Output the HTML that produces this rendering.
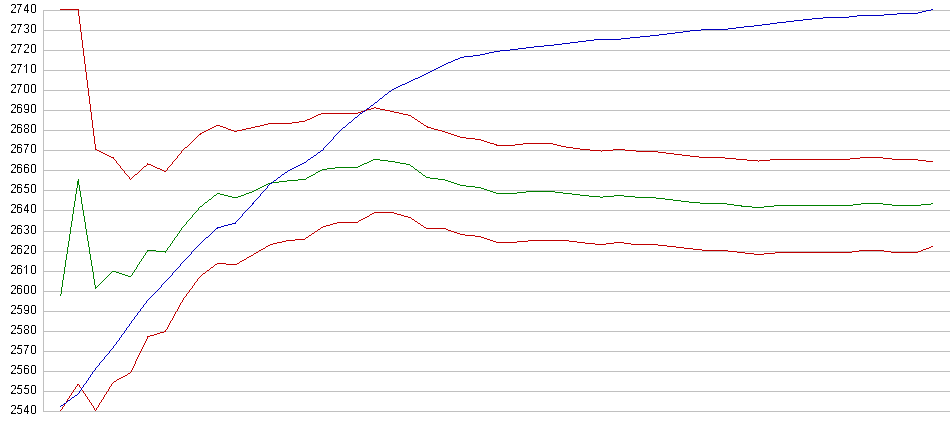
<!DOCTYPE html>
<html><head><meta charset="utf-8"><style>
html,body{margin:0;padding:0;background:#fff;width:950px;height:435px;overflow:hidden}
svg{position:absolute;left:0;top:0}
.l{position:absolute;right:913px;font-family:"Liberation Sans",sans-serif;font-size:12px;line-height:14px;color:#000;white-space:nowrap;will-change:transform}
</style></head><body>
<svg width="950" height="435" viewBox="0 0 950 435" shape-rendering="crispEdges"><path fill="#c0c0c0" d="M43 10h907v1h-907zM43 30h907v1h-907zM43 50h907v1h-907zM43 70h907v1h-907zM43 90h907v1h-907zM43 110h907v1h-907zM43 130h907v1h-907zM43 150h907v1h-907zM43 170h907v1h-907zM43 190h907v1h-907zM43 210h907v1h-907zM43 231h907v1h-907zM43 251h907v1h-907zM43 271h907v1h-907zM43 291h907v1h-907zM43 311h907v1h-907zM43 331h907v1h-907zM43 351h907v1h-907zM43 371h907v1h-907zM43 391h907v1h-907zM43 411h907v1h-907zM43 10h1v402h-1z"/><path fill="#c00000" d="M374 212h20v1h-20zM372 213h2v1h-2zM394 213h3v1h-3zM370 214h2v1h-2zM397 214h4v1h-4zM369 215h1v1h-1zM401 215h3v1h-3zM367 216h2v1h-2zM404 216h4v1h-4zM365 217h2v1h-2zM408 217h3v1h-3zM363 218h2v1h-2zM411 218h1v1h-1zM361 219h2v1h-2zM412 219h2v1h-2zM359 220h2v1h-2zM414 220h1v1h-1zM358 221h1v1h-1zM415 221h2v1h-2zM337 222h21v1h-21zM417 222h1v1h-1zM333 223h4v1h-4zM418 223h2v1h-2zM330 224h3v1h-3zM420 224h1v1h-1zM326 225h4v1h-4zM421 225h2v1h-2zM323 226h3v1h-3zM423 226h1v1h-1zM321 227h2v1h-2zM424 227h2v1h-2zM320 228h1v1h-1zM426 228h20v1h-20zM318 229h2v1h-2zM446 229h2v1h-2zM317 230h1v1h-1zM448 230h3v1h-3zM315 231h2v1h-2zM451 231h3v1h-3zM314 232h1v1h-1zM454 232h3v1h-3zM312 233h2v1h-2zM457 233h3v1h-3zM311 234h1v1h-1zM460 234h5v1h-5zM309 235h2v1h-2zM465 235h10v1h-10zM308 236h1v1h-1zM475 236h6v1h-6zM306 237h2v1h-2zM481 237h3v1h-3zM305 238h1v1h-1zM484 238h3v1h-3zM295 239h10v1h-10zM487 239h3v1h-3zM286 240h9v1h-9zM490 240h3v1h-3zM528 240h41v1h-41zM282 241h4v1h-4zM493 241h3v1h-3zM517 241h11v1h-11zM569 241h8v1h-8zM277 242h5v1h-5zM496 242h21v1h-21zM577 242h8v1h-8zM614 242h10v1h-10zM273 243h4v1h-4zM585 243h10v1h-10zM606 243h8v1h-8zM624 243h7v1h-7zM270 244h3v1h-3zM595 244h11v1h-11zM631 244h27v1h-27zM268 245h2v1h-2zM658 245h9v1h-9zM266 246h2v1h-2zM667 246h9v1h-9zM931 246h2v1h-2zM265 247h1v1h-1zM676 247h8v1h-8zM929 247h2v1h-2zM263 248h2v1h-2zM684 248h9v1h-9zM926 248h3v1h-3zM261 249h2v1h-2zM693 249h9v1h-9zM923 249h3v1h-3zM259 250h2v1h-2zM702 250h26v1h-26zM859 250h25v1h-25zM921 250h2v1h-2zM258 251h1v1h-1zM728 251h9v1h-9zM852 251h7v1h-7zM884 251h7v1h-7zM918 251h3v1h-3zM256 252h2v1h-2zM737 252h8v1h-8zM775 252h77v1h-77zM891 252h27v1h-27zM254 253h2v1h-2zM745 253h9v1h-9zM764 253h11v1h-11zM253 254h1v1h-1zM754 254h10v1h-10zM251 255h2v1h-2zM249 256h2v1h-2zM247 257h2v1h-2zM246 258h1v1h-1zM244 259h2v1h-2zM242 260h2v1h-2zM240 261h2v1h-2zM239 262h1v1h-1zM217 263h9v1h-9zM237 263h2v1h-2zM215 264h2v1h-2zM226 264h11v1h-11zM214 265h1v1h-1zM213 266h1v1h-1zM211 267h2v1h-2zM210 268h1v1h-1zM209 269h1v1h-1zM207 270h2v1h-2zM206 271h1v1h-1zM205 272h1v1h-1zM203 273h2v1h-2zM202 274h1v1h-1zM201 275h1v1h-1zM200 276h1v1h-1zM199 277h1v1h-1zM198 278h1v1h-1zM197 279h1v1h-1zM197 280h1v1h-1zM196 281h1v1h-1zM195 282h1v1h-1zM194 283h1v1h-1zM194 284h1v1h-1zM193 285h1v1h-1zM192 286h1v1h-1zM192 287h1v1h-1zM191 288h1v1h-1zM190 289h1v1h-1zM189 290h1v1h-1zM189 291h1v1h-1zM188 292h1v1h-1zM187 293h1v1h-1zM186 294h1v1h-1zM186 295h1v1h-1zM185 296h1v1h-1zM184 297h1v1h-1zM183 298h1v1h-1zM183 299h1v1h-1zM182 300h1v1h-1zM182 301h1v1h-1zM181 302h1v1h-1zM180 303h1v1h-1zM180 304h1v1h-1zM179 305h1v1h-1zM179 306h1v1h-1zM178 307h1v1h-1zM178 308h1v1h-1zM177 309h1v1h-1zM177 310h1v1h-1zM176 311h1v1h-1zM175 312h1v1h-1zM175 313h1v1h-1zM174 314h1v1h-1zM174 315h1v1h-1zM173 316h1v1h-1zM173 317h1v1h-1zM172 318h1v1h-1zM172 319h1v1h-1zM171 320h1v1h-1zM170 321h1v1h-1zM170 322h1v1h-1zM169 323h1v1h-1zM169 324h1v1h-1zM168 325h1v1h-1zM168 326h1v1h-1zM167 327h1v1h-1zM167 328h1v1h-1zM166 329h1v1h-1zM165 330h1v1h-1zM164 331h2v1h-2zM160 332h4v1h-4zM157 333h3v1h-3zM154 334h3v1h-3zM150 335h4v1h-4zM147 336h3v1h-3zM147 337h1v1h-1zM147 338h1v1h-1zM146 339h1v1h-1zM146 340h1v1h-1zM145 341h1v1h-1zM145 342h1v1h-1zM144 343h1v1h-1zM144 344h1v1h-1zM143 345h1v1h-1zM143 346h1v1h-1zM142 347h1v1h-1zM142 348h1v1h-1zM141 349h1v1h-1zM141 350h1v1h-1zM140 351h1v1h-1zM140 352h1v1h-1zM139 353h1v1h-1zM139 354h1v1h-1zM138 355h1v1h-1zM138 356h1v1h-1zM137 357h1v1h-1zM137 358h1v1h-1zM136 359h1v1h-1zM136 360h1v1h-1zM135 361h1v1h-1zM135 362h1v1h-1zM135 363h1v1h-1zM134 364h1v1h-1zM134 365h1v1h-1zM133 366h1v1h-1zM133 367h1v1h-1zM132 368h1v1h-1zM132 369h1v1h-1zM131 370h1v1h-1zM131 371h1v1h-1zM130 372h1v1h-1zM128 373h2v1h-2zM127 374h1v1h-1zM125 375h2v1h-2zM123 376h2v1h-2zM121 377h2v1h-2zM119 378h2v1h-2zM117 379h2v1h-2zM116 380h1v1h-1zM114 381h2v1h-2zM113 382h1v1h-1zM112 383h1v1h-1zM77 384h2v1h-2zM111 384h1v1h-1zM77 385h1v1h-1zM79 385h1v1h-1zM111 385h1v1h-1zM76 386h1v1h-1zM79 386h1v1h-1zM110 386h1v1h-1zM75 387h1v1h-1zM80 387h1v1h-1zM109 387h1v1h-1zM75 388h1v1h-1zM81 388h1v1h-1zM109 388h1v1h-1zM74 389h1v1h-1zM81 389h1v1h-1zM108 389h1v1h-1zM73 390h1v1h-1zM82 390h1v1h-1zM108 390h1v1h-1zM73 391h1v1h-1zM83 391h1v1h-1zM107 391h1v1h-1zM72 392h1v1h-1zM83 392h1v1h-1zM106 392h1v1h-1zM71 393h1v1h-1zM84 393h1v1h-1zM106 393h1v1h-1zM71 394h1v1h-1zM85 394h1v1h-1zM105 394h1v1h-1zM70 395h1v1h-1zM85 395h1v1h-1zM104 395h1v1h-1zM69 396h1v1h-1zM86 396h1v1h-1zM104 396h1v1h-1zM69 397h1v1h-1zM87 397h1v1h-1zM103 397h1v1h-1zM68 398h1v1h-1zM87 398h1v1h-1zM103 398h1v1h-1zM67 399h1v1h-1zM88 399h1v1h-1zM102 399h1v1h-1zM67 400h1v1h-1zM89 400h1v1h-1zM101 400h1v1h-1zM66 401h1v1h-1zM89 401h1v1h-1zM101 401h1v1h-1zM66 402h1v1h-1zM90 402h1v1h-1zM100 402h1v1h-1zM65 403h1v1h-1zM91 403h1v1h-1zM99 403h1v1h-1zM64 404h1v1h-1zM91 404h1v1h-1zM99 404h1v1h-1zM64 405h1v1h-1zM92 405h1v1h-1zM98 405h1v1h-1zM63 406h1v1h-1zM93 406h1v1h-1zM98 406h1v1h-1zM62 407h1v1h-1zM93 407h1v1h-1zM97 407h1v1h-1zM62 408h1v1h-1zM94 408h1v1h-1zM96 408h1v1h-1zM61 409h1v1h-1zM94 409h1v1h-1zM96 409h1v1h-1zM60 410h1v1h-1zM95 410h1v1h-1z"/><path fill="#008000" d="M373 159h7v1h-7zM371 160h2v1h-2zM380 160h8v1h-8zM369 161h2v1h-2zM388 161h7v1h-7zM367 162h2v1h-2zM395 162h5v1h-5zM364 163h3v1h-3zM400 163h6v1h-6zM362 164h2v1h-2zM406 164h4v1h-4zM360 165h2v1h-2zM410 165h1v1h-1zM358 166h2v1h-2zM411 166h2v1h-2zM335 167h23v1h-23zM413 167h1v1h-1zM327 168h8v1h-8zM414 168h1v1h-1zM322 169h5v1h-5zM415 169h2v1h-2zM320 170h2v1h-2zM417 170h1v1h-1zM318 171h2v1h-2zM418 171h1v1h-1zM316 172h2v1h-2zM419 172h2v1h-2zM315 173h1v1h-1zM421 173h1v1h-1zM313 174h2v1h-2zM422 174h1v1h-1zM311 175h2v1h-2zM423 175h2v1h-2zM309 176h2v1h-2zM425 176h1v1h-1zM307 177h2v1h-2zM426 177h4v1h-4zM306 178h1v1h-1zM430 178h8v1h-8zM78 179h1v1h-1zM298 179h8v1h-8zM438 179h7v1h-7zM78 180h1v1h-1zM287 180h11v1h-11zM445 180h3v1h-3zM77 181h2v1h-2zM279 181h8v1h-8zM448 181h3v1h-3zM77 182h2v1h-2zM271 182h8v1h-8zM451 182h3v1h-3zM77 183h2v1h-2zM268 183h3v1h-3zM454 183h3v1h-3zM77 184h2v1h-2zM266 184h2v1h-2zM457 184h3v1h-3zM77 185h1v1h-1zM79 185h1v1h-1zM264 185h2v1h-2zM460 185h6v1h-6zM77 186h1v1h-1zM79 186h1v1h-1zM262 186h2v1h-2zM466 186h9v1h-9zM77 187h1v1h-1zM79 187h1v1h-1zM260 187h2v1h-2zM475 187h6v1h-6zM76 188h1v1h-1zM79 188h1v1h-1zM258 188h2v1h-2zM481 188h3v1h-3zM76 189h1v1h-1zM79 189h1v1h-1zM256 189h2v1h-2zM484 189h3v1h-3zM76 190h1v1h-1zM79 190h1v1h-1zM254 190h2v1h-2zM487 190h3v1h-3zM76 191h1v1h-1zM80 191h1v1h-1zM252 191h2v1h-2zM490 191h3v1h-3zM526 191h29v1h-29zM76 192h1v1h-1zM80 192h1v1h-1zM249 192h3v1h-3zM493 192h3v1h-3zM517 192h9v1h-9zM555 192h8v1h-8zM76 193h1v1h-1zM80 193h1v1h-1zM217 193h3v1h-3zM246 193h3v1h-3zM496 193h21v1h-21zM563 193h9v1h-9zM75 194h1v1h-1zM80 194h1v1h-1zM216 194h1v1h-1zM220 194h4v1h-4zM244 194h2v1h-2zM572 194h8v1h-8zM75 195h1v1h-1zM80 195h1v1h-1zM214 195h2v1h-2zM224 195h4v1h-4zM241 195h3v1h-3zM580 195h9v1h-9zM614 195h10v1h-10zM75 196h1v1h-1zM80 196h1v1h-1zM213 196h1v1h-1zM228 196h4v1h-4zM238 196h3v1h-3zM589 196h11v1h-11zM603 196h11v1h-11zM624 196h11v1h-11zM75 197h1v1h-1zM81 197h1v1h-1zM212 197h1v1h-1zM232 197h6v1h-6zM600 197h3v1h-3zM635 197h21v1h-21zM75 198h1v1h-1zM81 198h1v1h-1zM211 198h1v1h-1zM656 198h9v1h-9zM75 199h1v1h-1zM81 199h1v1h-1zM209 199h2v1h-2zM665 199h8v1h-8zM75 200h1v1h-1zM81 200h1v1h-1zM208 200h1v1h-1zM673 200h8v1h-8zM74 201h1v1h-1zM81 201h1v1h-1zM207 201h1v1h-1zM681 201h8v1h-8zM74 202h1v1h-1zM81 202h1v1h-1zM205 202h2v1h-2zM689 202h11v1h-11zM74 203h1v1h-1zM81 203h1v1h-1zM204 203h1v1h-1zM700 203h27v1h-27zM861 203h22v1h-22zM931 203h2v1h-2zM74 204h1v1h-1zM82 204h1v1h-1zM203 204h1v1h-1zM727 204h7v1h-7zM853 204h8v1h-8zM883 204h9v1h-9zM921 204h10v1h-10zM74 205h1v1h-1zM82 205h1v1h-1zM202 205h1v1h-1zM734 205h8v1h-8zM774 205h79v1h-79zM892 205h29v1h-29zM74 206h1v1h-1zM82 206h1v1h-1zM200 206h2v1h-2zM741 206h11v1h-11zM764 206h10v1h-10zM73 207h1v1h-1zM82 207h1v1h-1zM199 207h1v1h-1zM752 207h12v1h-12zM73 208h1v1h-1zM82 208h1v1h-1zM198 208h1v1h-1zM73 209h1v1h-1zM82 209h1v1h-1zM198 209h1v1h-1zM73 210h1v1h-1zM83 210h1v1h-1zM197 210h1v1h-1zM73 211h1v1h-1zM83 211h1v1h-1zM196 211h1v1h-1zM73 212h1v1h-1zM83 212h1v1h-1zM195 212h1v1h-1zM73 213h1v1h-1zM83 213h1v1h-1zM194 213h1v1h-1zM72 214h1v1h-1zM83 214h1v1h-1zM193 214h1v1h-1zM72 215h1v1h-1zM83 215h1v1h-1zM192 215h1v1h-1zM72 216h1v1h-1zM84 216h1v1h-1zM192 216h1v1h-1zM72 217h1v1h-1zM84 217h1v1h-1zM191 217h1v1h-1zM72 218h1v1h-1zM84 218h1v1h-1zM190 218h1v1h-1zM72 219h1v1h-1zM84 219h1v1h-1zM189 219h1v1h-1zM72 220h1v1h-1zM84 220h1v1h-1zM188 220h1v1h-1zM71 221h1v1h-1zM84 221h1v1h-1zM187 221h1v1h-1zM71 222h1v1h-1zM85 222h1v1h-1zM186 222h1v1h-1zM71 223h1v1h-1zM85 223h1v1h-1zM186 223h1v1h-1zM71 224h1v1h-1zM85 224h1v1h-1zM185 224h1v1h-1zM71 225h1v1h-1zM85 225h1v1h-1zM184 225h1v1h-1zM71 226h1v1h-1zM85 226h1v1h-1zM183 226h1v1h-1zM70 227h1v1h-1zM85 227h1v1h-1zM182 227h1v1h-1zM70 228h1v1h-1zM85 228h1v1h-1zM181 228h1v1h-1zM70 229h1v1h-1zM86 229h1v1h-1zM181 229h1v1h-1zM70 230h1v1h-1zM86 230h1v1h-1zM180 230h1v1h-1zM70 231h1v1h-1zM86 231h1v1h-1zM179 231h1v1h-1zM70 232h1v1h-1zM86 232h1v1h-1zM179 232h1v1h-1zM70 233h1v1h-1zM86 233h1v1h-1zM178 233h1v1h-1zM69 234h1v1h-1zM86 234h1v1h-1zM177 234h1v1h-1zM69 235h1v1h-1zM87 235h1v1h-1zM177 235h1v1h-1zM69 236h1v1h-1zM87 236h1v1h-1zM176 236h1v1h-1zM69 237h1v1h-1zM87 237h1v1h-1zM175 237h1v1h-1zM69 238h1v1h-1zM87 238h1v1h-1zM174 238h1v1h-1zM69 239h1v1h-1zM87 239h1v1h-1zM174 239h1v1h-1zM69 240h1v1h-1zM87 240h1v1h-1zM173 240h1v1h-1zM68 241h1v1h-1zM88 241h1v1h-1zM172 241h1v1h-1zM68 242h1v1h-1zM88 242h1v1h-1zM172 242h1v1h-1zM68 243h1v1h-1zM88 243h1v1h-1zM171 243h1v1h-1zM68 244h1v1h-1zM88 244h1v1h-1zM170 244h1v1h-1zM68 245h1v1h-1zM88 245h1v1h-1zM170 245h1v1h-1zM68 246h1v1h-1zM88 246h1v1h-1zM169 246h1v1h-1zM67 247h1v1h-1zM89 247h1v1h-1zM168 247h1v1h-1zM67 248h1v1h-1zM89 248h1v1h-1zM167 248h1v1h-1zM67 249h1v1h-1zM89 249h1v1h-1zM167 249h1v1h-1zM67 250h1v1h-1zM89 250h1v1h-1zM147 250h9v1h-9zM166 250h1v1h-1zM67 251h1v1h-1zM89 251h1v1h-1zM147 251h1v1h-1zM156 251h10v1h-10zM67 252h1v1h-1zM89 252h1v1h-1zM146 252h1v1h-1zM165 252h1v1h-1zM67 253h1v1h-1zM89 253h1v1h-1zM145 253h1v1h-1zM66 254h1v1h-1zM90 254h1v1h-1zM145 254h1v1h-1zM66 255h1v1h-1zM90 255h1v1h-1zM144 255h1v1h-1zM66 256h1v1h-1zM90 256h1v1h-1zM143 256h1v1h-1zM66 257h1v1h-1zM90 257h1v1h-1zM143 257h1v1h-1zM66 258h1v1h-1zM90 258h1v1h-1zM142 258h1v1h-1zM66 259h1v1h-1zM90 259h1v1h-1zM141 259h1v1h-1zM65 260h1v1h-1zM91 260h1v1h-1zM141 260h1v1h-1zM65 261h1v1h-1zM91 261h1v1h-1zM140 261h1v1h-1zM65 262h1v1h-1zM91 262h1v1h-1zM139 262h1v1h-1zM65 263h1v1h-1zM91 263h1v1h-1zM139 263h1v1h-1zM65 264h1v1h-1zM91 264h1v1h-1zM138 264h1v1h-1zM65 265h1v1h-1zM91 265h1v1h-1zM137 265h1v1h-1zM65 266h1v1h-1zM92 266h1v1h-1zM137 266h1v1h-1zM64 267h1v1h-1zM92 267h1v1h-1zM136 267h1v1h-1zM64 268h1v1h-1zM92 268h1v1h-1zM136 268h1v1h-1zM64 269h1v1h-1zM92 269h1v1h-1zM135 269h1v1h-1zM64 270h1v1h-1zM92 270h1v1h-1zM134 270h1v1h-1zM64 271h1v1h-1zM92 271h1v1h-1zM112 271h4v1h-4zM134 271h1v1h-1zM64 272h1v1h-1zM93 272h1v1h-1zM111 272h1v1h-1zM116 272h3v1h-3zM133 272h1v1h-1zM64 273h1v1h-1zM93 273h1v1h-1zM110 273h1v1h-1zM119 273h3v1h-3zM132 273h1v1h-1zM63 274h1v1h-1zM93 274h1v1h-1zM109 274h1v1h-1zM122 274h3v1h-3zM132 274h1v1h-1zM63 275h1v1h-1zM93 275h1v1h-1zM108 275h1v1h-1zM125 275h3v1h-3zM131 275h1v1h-1zM63 276h1v1h-1zM93 276h1v1h-1zM107 276h1v1h-1zM128 276h3v1h-3zM63 277h1v1h-1zM93 277h1v1h-1zM106 277h1v1h-1zM63 278h1v1h-1zM93 278h1v1h-1zM105 278h1v1h-1zM63 279h1v1h-1zM94 279h1v1h-1zM104 279h1v1h-1zM62 280h1v1h-1zM94 280h1v1h-1zM103 280h1v1h-1zM62 281h1v1h-1zM94 281h1v1h-1zM102 281h1v1h-1zM62 282h1v1h-1zM94 282h1v1h-1zM101 282h1v1h-1zM62 283h1v1h-1zM94 283h1v1h-1zM100 283h1v1h-1zM62 284h1v1h-1zM94 284h1v1h-1zM99 284h1v1h-1zM62 285h1v1h-1zM95 285h1v1h-1zM98 285h1v1h-1zM62 286h1v1h-1zM95 286h1v1h-1zM97 286h1v1h-1zM61 287h1v1h-1zM95 287h2v1h-2zM61 288h1v1h-1zM95 288h1v1h-1zM61 289h1v1h-1zM61 290h1v1h-1zM61 291h1v1h-1zM61 292h1v1h-1zM61 293h1v1h-1zM60 294h1v1h-1zM60 295h1v1h-1z"/><path fill="#c00000" d="M60 9h19v1h-19zM78 10h1v1h-1zM78 11h1v1h-1zM78 12h1v1h-1zM78 13h1v1h-1zM78 14h1v1h-1zM78 15h1v1h-1zM79 16h1v1h-1zM79 17h1v1h-1zM79 18h1v1h-1zM79 19h1v1h-1zM79 20h1v1h-1zM79 21h1v1h-1zM79 22h1v1h-1zM79 23h1v1h-1zM80 24h1v1h-1zM80 25h1v1h-1zM80 26h1v1h-1zM80 27h1v1h-1zM80 28h1v1h-1zM80 29h1v1h-1zM80 30h1v1h-1zM80 31h1v1h-1zM81 32h1v1h-1zM81 33h1v1h-1zM81 34h1v1h-1zM81 35h1v1h-1zM81 36h1v1h-1zM81 37h1v1h-1zM81 38h1v1h-1zM81 39h1v1h-1zM82 40h1v1h-1zM82 41h1v1h-1zM82 42h1v1h-1zM82 43h1v1h-1zM82 44h1v1h-1zM82 45h1v1h-1zM82 46h1v1h-1zM82 47h1v1h-1zM83 48h1v1h-1zM83 49h1v1h-1zM83 50h1v1h-1zM83 51h1v1h-1zM83 52h1v1h-1zM83 53h1v1h-1zM83 54h1v1h-1zM83 55h1v1h-1zM84 56h1v1h-1zM84 57h1v1h-1zM84 58h1v1h-1zM84 59h1v1h-1zM84 60h1v1h-1zM84 61h1v1h-1zM84 62h1v1h-1zM84 63h1v1h-1zM85 64h1v1h-1zM85 65h1v1h-1zM85 66h1v1h-1zM85 67h1v1h-1zM85 68h1v1h-1zM85 69h1v1h-1zM85 70h1v1h-1zM85 71h1v1h-1zM86 72h1v1h-1zM86 73h1v1h-1zM86 74h1v1h-1zM86 75h1v1h-1zM86 76h1v1h-1zM86 77h1v1h-1zM86 78h1v1h-1zM86 79h1v1h-1zM87 80h1v1h-1zM87 81h1v1h-1zM87 82h1v1h-1zM87 83h1v1h-1zM87 84h1v1h-1zM87 85h1v1h-1zM87 86h1v1h-1zM87 87h1v1h-1zM88 88h1v1h-1zM88 89h1v1h-1zM88 90h1v1h-1zM88 91h1v1h-1zM88 92h1v1h-1zM88 93h1v1h-1zM88 94h1v1h-1zM88 95h1v1h-1zM89 96h1v1h-1zM89 97h1v1h-1zM89 98h1v1h-1zM89 99h1v1h-1zM89 100h1v1h-1zM89 101h1v1h-1zM89 102h1v1h-1zM89 103h1v1h-1zM90 104h1v1h-1zM90 105h1v1h-1zM90 106h1v1h-1zM90 107h1v1h-1zM374 107h2v1h-2zM90 108h1v1h-1zM371 108h3v1h-3zM376 108h4v1h-4zM90 109h1v1h-1zM367 109h4v1h-4zM380 109h5v1h-5zM90 110h1v1h-1zM364 110h3v1h-3zM385 110h5v1h-5zM90 111h1v1h-1zM361 111h3v1h-3zM390 111h4v1h-4zM91 112h1v1h-1zM358 112h3v1h-3zM394 112h5v1h-5zM91 113h1v1h-1zM321 113h37v1h-37zM399 113h4v1h-4zM91 114h1v1h-1zM318 114h3v1h-3zM403 114h5v1h-5zM91 115h1v1h-1zM316 115h2v1h-2zM408 115h3v1h-3zM91 116h1v1h-1zM314 116h2v1h-2zM411 116h1v1h-1zM91 117h1v1h-1zM312 117h2v1h-2zM412 117h2v1h-2zM91 118h1v1h-1zM310 118h2v1h-2zM414 118h1v1h-1zM91 119h1v1h-1zM307 119h3v1h-3zM415 119h2v1h-2zM92 120h1v1h-1zM305 120h2v1h-2zM417 120h1v1h-1zM92 121h1v1h-1zM299 121h6v1h-6zM418 121h2v1h-2zM92 122h1v1h-1zM292 122h7v1h-7zM420 122h1v1h-1zM92 123h1v1h-1zM268 123h24v1h-24zM421 123h2v1h-2zM92 124h1v1h-1zM264 124h4v1h-4zM423 124h1v1h-1zM92 125h1v1h-1zM216 125h4v1h-4zM260 125h4v1h-4zM424 125h2v1h-2zM92 126h1v1h-1zM214 126h2v1h-2zM220 126h3v1h-3zM255 126h5v1h-5zM426 126h2v1h-2zM92 127h1v1h-1zM212 127h2v1h-2zM223 127h3v1h-3zM251 127h4v1h-4zM427 127h4v1h-4zM93 128h1v1h-1zM210 128h2v1h-2zM226 128h2v1h-2zM246 128h5v1h-5zM431 128h3v1h-3zM93 129h1v1h-1zM208 129h2v1h-2zM228 129h3v1h-3zM242 129h4v1h-4zM434 129h4v1h-4zM93 130h1v1h-1zM206 130h2v1h-2zM231 130h3v1h-3zM237 130h5v1h-5zM438 130h4v1h-4zM93 131h1v1h-1zM204 131h2v1h-2zM234 131h3v1h-3zM442 131h3v1h-3zM93 132h1v1h-1zM202 132h2v1h-2zM445 132h3v1h-3zM93 133h1v1h-1zM200 133h2v1h-2zM448 133h3v1h-3zM93 134h1v1h-1zM199 134h2v1h-2zM451 134h3v1h-3zM93 135h1v1h-1zM198 135h1v1h-1zM454 135h3v1h-3zM94 136h1v1h-1zM197 136h1v1h-1zM457 136h3v1h-3zM94 137h1v1h-1zM196 137h1v1h-1zM460 137h6v1h-6zM94 138h1v1h-1zM195 138h1v1h-1zM466 138h9v1h-9zM94 139h1v1h-1zM194 139h1v1h-1zM475 139h6v1h-6zM94 140h1v1h-1zM193 140h1v1h-1zM481 140h3v1h-3zM94 141h1v1h-1zM192 141h1v1h-1zM484 141h3v1h-3zM94 142h1v1h-1zM191 142h1v1h-1zM487 142h3v1h-3zM94 143h1v1h-1zM190 143h1v1h-1zM490 143h4v1h-4zM523 143h30v1h-30zM95 144h1v1h-1zM189 144h1v1h-1zM494 144h3v1h-3zM515 144h8v1h-8zM553 144h4v1h-4zM95 145h1v1h-1zM188 145h1v1h-1zM496 145h19v1h-19zM557 145h4v1h-4zM95 146h1v1h-1zM187 146h1v1h-1zM561 146h5v1h-5zM95 147h1v1h-1zM185 147h2v1h-2zM566 147h7v1h-7zM95 148h1v1h-1zM184 148h1v1h-1zM573 148h7v1h-7zM95 149h2v1h-2zM183 149h1v1h-1zM580 149h10v1h-10zM613 149h12v1h-12zM97 150h2v1h-2zM182 150h1v1h-1zM590 150h11v1h-11zM602 150h11v1h-11zM625 150h11v1h-11zM99 151h2v1h-2zM181 151h1v1h-1zM601 151h1v1h-1zM636 151h22v1h-22zM101 152h2v1h-2zM181 152h1v1h-1zM658 152h8v1h-8zM103 153h2v1h-2zM180 153h1v1h-1zM666 153h8v1h-8zM105 154h2v1h-2zM179 154h1v1h-1zM674 154h8v1h-8zM107 155h2v1h-2zM178 155h1v1h-1zM682 155h8v1h-8zM109 156h2v1h-2zM177 156h1v1h-1zM690 156h9v1h-9zM111 157h3v1h-3zM177 157h1v1h-1zM699 157h26v1h-26zM860 157h23v1h-23zM113 158h1v1h-1zM176 158h1v1h-1zM725 158h11v1h-11zM850 158h10v1h-10zM883 158h9v1h-9zM114 159h1v1h-1zM175 159h1v1h-1zM736 159h11v1h-11zM770 159h80v1h-80zM892 159h26v1h-26zM115 160h1v1h-1zM174 160h1v1h-1zM747 160h11v1h-11zM759 160h11v1h-11zM918 160h8v1h-8zM116 161h1v1h-1zM173 161h1v1h-1zM758 161h1v1h-1zM926 161h7v1h-7zM116 162h1v1h-1zM172 162h1v1h-1zM117 163h1v1h-1zM147 163h1v1h-1zM172 163h1v1h-1zM118 164h1v1h-1zM147 164h4v1h-4zM171 164h1v1h-1zM119 165h1v1h-1zM146 165h1v1h-1zM151 165h2v1h-2zM170 165h1v1h-1zM120 166h1v1h-1zM144 166h2v1h-2zM153 166h2v1h-2zM169 166h1v1h-1zM120 167h1v1h-1zM143 167h1v1h-1zM155 167h2v1h-2zM168 167h1v1h-1zM121 168h1v1h-1zM142 168h1v1h-1zM157 168h3v1h-3zM167 168h1v1h-1zM122 169h1v1h-1zM141 169h1v1h-1zM160 169h2v1h-2zM167 169h1v1h-1zM123 170h1v1h-1zM140 170h1v1h-1zM162 170h2v1h-2zM166 170h1v1h-1zM124 171h1v1h-1zM139 171h1v1h-1zM164 171h2v1h-2zM124 172h1v1h-1zM138 172h1v1h-1zM125 173h1v1h-1zM137 173h1v1h-1zM126 174h1v1h-1zM135 174h2v1h-2zM127 175h1v1h-1zM134 175h1v1h-1zM128 176h1v1h-1zM133 176h1v1h-1zM129 177h1v1h-1zM132 177h1v1h-1zM129 178h1v1h-1zM131 178h1v1h-1zM130 179h1v1h-1z"/><path fill="#0000c0" d="M931 9h2v1h-2zM926 10h5v1h-5zM922 11h4v1h-4zM918 12h4v1h-4zM897 13h21v1h-21zM884 14h13v1h-13zM857 15h27v1h-27zM849 16h8v1h-8zM823 17h26v1h-26zM812 18h11v1h-11zM803 19h9v1h-9zM794 20h9v1h-9zM786 21h8v1h-8zM777 22h9v1h-9zM770 23h7v1h-7zM762 24h8v1h-8zM754 25h8v1h-8zM744 26h10v1h-10zM736 27h8v1h-8zM728 28h8v1h-8zM701 29h27v1h-27zM690 30h11v1h-11zM683 31h7v1h-7zM675 32h8v1h-8zM667 33h8v1h-8zM659 34h8v1h-8zM650 35h9v1h-9zM640 36h10v1h-10zM630 37h10v1h-10zM621 38h9v1h-9zM594 39h27v1h-27zM586 40h8v1h-8zM578 41h8v1h-8zM570 42h8v1h-8zM562 43h8v1h-8zM554 44h8v1h-8zM544 45h10v1h-10zM534 46h10v1h-10zM526 47h8v1h-8zM518 48h8v1h-8zM510 49h8v1h-8zM500 50h10v1h-10zM494 51h6v1h-6zM489 52h5v1h-5zM485 53h4v1h-4zM480 54h5v1h-5zM473 55h7v1h-7zM464 56h9v1h-9zM460 57h4v1h-4zM458 58h2v1h-2zM455 59h3v1h-3zM453 60h2v1h-2zM451 61h2v1h-2zM448 62h3v1h-3zM446 63h2v1h-2zM444 64h2v1h-2zM442 65h2v1h-2zM440 66h2v1h-2zM438 67h2v1h-2zM436 68h2v1h-2zM434 69h2v1h-2zM432 70h2v1h-2zM430 71h2v1h-2zM428 72h2v1h-2zM426 73h2v1h-2zM424 74h2v1h-2zM422 75h2v1h-2zM420 76h2v1h-2zM418 77h2v1h-2zM415 78h3v1h-3zM413 79h2v1h-2zM411 80h2v1h-2zM409 81h2v1h-2zM407 82h2v1h-2zM405 83h2v1h-2zM402 84h3v1h-3zM400 85h2v1h-2zM398 86h2v1h-2zM396 87h2v1h-2zM394 88h2v1h-2zM392 89h2v1h-2zM391 90h1v1h-1zM389 91h2v1h-2zM388 92h1v1h-1zM387 93h1v1h-1zM385 94h2v1h-2zM384 95h1v1h-1zM383 96h1v1h-1zM382 97h1v1h-1zM380 98h2v1h-2zM379 99h1v1h-1zM378 100h1v1h-1zM377 101h1v1h-1zM375 102h2v1h-2zM374 103h1v1h-1zM373 104h1v1h-1zM371 105h2v1h-2zM370 106h1v1h-1zM369 107h1v1h-1zM367 108h2v1h-2zM366 109h1v1h-1zM365 110h1v1h-1zM363 111h2v1h-2zM362 112h1v1h-1zM360 113h2v1h-2zM359 114h1v1h-1zM358 115h1v1h-1zM357 116h1v1h-1zM355 117h2v1h-2zM354 118h1v1h-1zM353 119h1v1h-1zM352 120h1v1h-1zM351 121h1v1h-1zM349 122h2v1h-2zM348 123h1v1h-1zM347 124h1v1h-1zM346 125h1v1h-1zM345 126h1v1h-1zM343 127h2v1h-2zM342 128h1v1h-1zM341 129h1v1h-1zM340 130h1v1h-1zM339 131h1v1h-1zM338 132h1v1h-1zM337 133h1v1h-1zM336 134h1v1h-1zM335 135h1v1h-1zM334 136h1v1h-1zM333 137h1v1h-1zM333 138h1v1h-1zM332 139h1v1h-1zM331 140h1v1h-1zM330 141h1v1h-1zM329 142h1v1h-1zM328 143h1v1h-1zM327 144h1v1h-1zM326 145h1v1h-1zM325 146h1v1h-1zM324 147h1v1h-1zM323 148h1v1h-1zM323 149h1v1h-1zM321 150h2v1h-2zM320 151h1v1h-1zM318 152h2v1h-2zM317 153h1v1h-1zM316 154h1v1h-1zM314 155h2v1h-2zM313 156h1v1h-1zM311 157h2v1h-2zM310 158h1v1h-1zM308 159h2v1h-2zM307 160h1v1h-1zM306 161h1v1h-1zM304 162h2v1h-2zM302 163h2v1h-2zM300 164h2v1h-2zM298 165h2v1h-2zM296 166h2v1h-2zM294 167h2v1h-2zM292 168h2v1h-2zM290 169h2v1h-2zM288 170h2v1h-2zM287 171h1v1h-1zM285 172h2v1h-2zM284 173h1v1h-1zM282 174h2v1h-2zM281 175h1v1h-1zM280 176h1v1h-1zM278 177h2v1h-2zM277 178h1v1h-1zM276 179h1v1h-1zM274 180h2v1h-2zM273 181h1v1h-1zM272 182h1v1h-1zM270 183h2v1h-2zM269 184h1v1h-1zM268 185h1v1h-1zM267 186h1v1h-1zM267 187h1v1h-1zM266 188h1v1h-1zM265 189h1v1h-1zM264 190h1v1h-1zM263 191h1v1h-1zM262 192h1v1h-1zM261 193h1v1h-1zM260 194h1v1h-1zM260 195h1v1h-1zM259 196h1v1h-1zM258 197h1v1h-1zM257 198h1v1h-1zM256 199h1v1h-1zM255 200h1v1h-1zM254 201h1v1h-1zM253 202h1v1h-1zM252 203h2v1h-2zM252 204h1v1h-1zM251 205h1v1h-1zM250 206h1v1h-1zM249 207h1v1h-1zM248 208h1v1h-1zM247 209h1v1h-1zM246 210h1v1h-1zM245 211h1v1h-1zM244 212h1v1h-1zM243 213h1v1h-1zM242 214h1v1h-1zM242 215h1v1h-1zM241 216h1v1h-1zM240 217h1v1h-1zM239 218h1v1h-1zM238 219h1v1h-1zM237 220h1v1h-1zM236 221h1v1h-1zM235 222h1v1h-1zM232 223h4v1h-4zM228 224h4v1h-4zM224 225h4v1h-4zM221 226h3v1h-3zM217 227h4v1h-4zM216 228h2v1h-2zM215 229h1v1h-1zM214 230h1v1h-1zM213 231h1v1h-1zM212 232h1v1h-1zM211 233h1v1h-1zM210 234h1v1h-1zM209 235h1v1h-1zM208 236h1v1h-1zM206 237h2v1h-2zM205 238h1v1h-1zM204 239h1v1h-1zM203 240h1v1h-1zM202 241h1v1h-1zM201 242h1v1h-1zM200 243h1v1h-1zM199 244h1v1h-1zM198 245h1v1h-1zM197 246h1v1h-1zM196 247h1v1h-1zM195 248h1v1h-1zM194 249h1v1h-1zM193 250h1v1h-1zM192 251h1v1h-1zM191 252h1v1h-1zM191 253h1v1h-1zM190 254h1v1h-1zM189 255h1v1h-1zM188 256h1v1h-1zM187 257h1v1h-1zM186 258h1v1h-1zM185 259h1v1h-1zM184 260h1v1h-1zM183 261h1v1h-1zM182 262h1v1h-1zM181 263h1v1h-1zM180 264h1v1h-1zM180 265h1v1h-1zM179 266h1v1h-1zM178 267h1v1h-1zM177 268h1v1h-1zM176 269h1v1h-1zM175 270h1v1h-1zM174 271h1v1h-1zM173 272h1v1h-1zM172 273h1v1h-1zM172 274h1v1h-1zM171 275h1v1h-1zM170 276h1v1h-1zM169 277h1v1h-1zM168 278h1v1h-1zM167 279h1v1h-1zM166 280h1v1h-1zM165 281h1v1h-1zM164 282h1v1h-1zM163 283h1v1h-1zM162 284h1v1h-1zM161 285h1v1h-1zM161 286h1v1h-1zM160 287h1v1h-1zM159 288h1v1h-1zM158 289h1v1h-1zM157 290h1v1h-1zM156 291h1v1h-1zM155 292h1v1h-1zM154 293h1v1h-1zM153 294h1v1h-1zM152 295h1v1h-1zM151 296h1v1h-1zM150 297h1v1h-1zM149 298h1v1h-1zM148 299h1v1h-1zM147 300h1v1h-1zM146 301h1v1h-1zM146 302h1v1h-1zM145 303h1v1h-1zM144 304h1v1h-1zM143 305h1v1h-1zM143 306h1v1h-1zM142 307h1v1h-1zM141 308h1v1h-1zM140 309h1v1h-1zM140 310h1v1h-1zM139 311h1v1h-1zM138 312h1v1h-1zM137 313h1v1h-1zM137 314h1v1h-1zM136 315h1v1h-1zM135 316h1v1h-1zM134 317h1v1h-1zM134 318h1v1h-1zM133 319h1v1h-1zM132 320h1v1h-1zM131 321h1v1h-1zM131 322h1v1h-1zM130 323h1v1h-1zM129 324h1v1h-1zM129 325h1v1h-1zM128 326h1v1h-1zM127 327h1v1h-1zM126 328h1v1h-1zM126 329h1v1h-1zM125 330h1v1h-1zM124 331h1v1h-1zM124 332h1v1h-1zM123 333h1v1h-1zM122 334h1v1h-1zM121 335h1v1h-1zM121 336h1v1h-1zM120 337h1v1h-1zM119 338h1v1h-1zM119 339h1v1h-1zM118 340h1v1h-1zM117 341h1v1h-1zM116 342h1v1h-1zM116 343h1v1h-1zM115 344h1v1h-1zM114 345h1v1h-1zM113 346h1v1h-1zM113 347h1v1h-1zM112 348h1v1h-1zM111 349h1v1h-1zM110 350h1v1h-1zM109 351h1v1h-1zM109 352h1v1h-1zM108 353h1v1h-1zM107 354h1v1h-1zM106 355h1v1h-1zM105 356h1v1h-1zM104 357h1v1h-1zM104 358h1v1h-1zM103 359h1v1h-1zM102 360h1v1h-1zM101 361h1v1h-1zM100 362h1v1h-1zM99 363h1v1h-1zM99 364h1v1h-1zM98 365h1v1h-1zM97 366h1v1h-1zM96 367h1v1h-1zM95 368h1v1h-1zM95 369h1v1h-1zM94 370h1v1h-1zM93 371h1v1h-1zM92 372h1v1h-1zM92 373h1v1h-1zM91 374h1v1h-1zM90 375h1v1h-1zM90 376h1v1h-1zM89 377h1v1h-1zM88 378h1v1h-1zM88 379h1v1h-1zM87 380h1v1h-1zM86 381h1v1h-1zM86 382h1v1h-1zM85 383h1v1h-1zM84 384h1v1h-1zM83 385h1v1h-1zM83 386h1v1h-1zM82 387h1v1h-1zM81 388h1v1h-1zM81 389h1v1h-1zM80 390h1v1h-1zM79 391h1v1h-1zM79 392h1v1h-1zM78 393h1v1h-1zM77 394h1v1h-1zM75 395h2v1h-2zM74 396h1v1h-1zM72 397h2v1h-2zM71 398h1v1h-1zM70 399h1v1h-1zM68 400h2v1h-2zM67 401h1v1h-1zM66 402h1v1h-1zM64 403h2v1h-2zM63 404h1v1h-1zM61 405h2v1h-2zM60 406h1v1h-1z"/><path fill="#000" d="M12 4h1v1h-1zM13 4h1v1h-1zM14 4h1v1h-1zM11 5h1v1h-1zM15 5h1v1h-1zM15 6h1v1h-1zM15 7h1v1h-1zM12 10h1v1h-1zM11 11h1v1h-1zM11 12h1v1h-1zM12 12h1v1h-1zM13 12h1v1h-1zM14 12h1v1h-1zM15 12h1v1h-1zM17 4h1v1h-1zM18 4h1v1h-1zM19 4h1v1h-1zM20 4h1v1h-1zM21 4h1v1h-1zM20 5h1v1h-1zM20 6h1v1h-1zM19 8h1v1h-1zM18 10h1v1h-1zM18 11h1v1h-1zM18 12h1v1h-1zM27 4h1v1h-1zM26 5h1v1h-1zM27 5h1v1h-1zM27 6h1v1h-1zM25 7h1v1h-1zM27 7h1v1h-1zM27 8h1v1h-1zM24 9h1v1h-1zM27 9h1v1h-1zM24 10h1v1h-1zM25 10h1v1h-1zM26 10h1v1h-1zM27 10h1v1h-1zM28 10h1v1h-1zM27 11h1v1h-1zM27 12h1v1h-1zM32 4h1v1h-1zM33 4h1v1h-1zM34 4h1v1h-1zM31 5h1v1h-1zM35 5h1v1h-1zM31 6h1v1h-1zM35 6h1v1h-1zM31 7h1v1h-1zM35 7h1v1h-1zM31 8h1v1h-1zM35 8h1v1h-1zM31 9h1v1h-1zM35 9h1v1h-1zM31 10h1v1h-1zM35 10h1v1h-1zM31 11h1v1h-1zM35 11h1v1h-1zM32 12h1v1h-1zM33 12h1v1h-1zM34 12h1v1h-1zM12 24h1v1h-1zM13 24h1v1h-1zM14 24h1v1h-1zM11 25h1v1h-1zM15 25h1v1h-1zM15 26h1v1h-1zM15 27h1v1h-1zM12 30h1v1h-1zM11 31h1v1h-1zM11 32h1v1h-1zM12 32h1v1h-1zM13 32h1v1h-1zM14 32h1v1h-1zM15 32h1v1h-1zM17 24h1v1h-1zM18 24h1v1h-1zM19 24h1v1h-1zM20 24h1v1h-1zM21 24h1v1h-1zM20 25h1v1h-1zM20 26h1v1h-1zM19 28h1v1h-1zM18 30h1v1h-1zM18 31h1v1h-1zM18 32h1v1h-1zM25 24h1v1h-1zM26 24h1v1h-1zM27 24h1v1h-1zM24 25h1v1h-1zM28 25h1v1h-1zM28 26h1v1h-1zM26 28h1v1h-1zM27 28h1v1h-1zM28 29h1v1h-1zM28 30h1v1h-1zM24 31h1v1h-1zM28 31h1v1h-1zM25 32h1v1h-1zM26 32h1v1h-1zM27 32h1v1h-1zM32 24h1v1h-1zM33 24h1v1h-1zM34 24h1v1h-1zM31 25h1v1h-1zM35 25h1v1h-1zM31 26h1v1h-1zM35 26h1v1h-1zM31 27h1v1h-1zM35 27h1v1h-1zM31 28h1v1h-1zM35 28h1v1h-1zM31 29h1v1h-1zM35 29h1v1h-1zM31 30h1v1h-1zM35 30h1v1h-1zM31 31h1v1h-1zM35 31h1v1h-1zM32 32h1v1h-1zM33 32h1v1h-1zM34 32h1v1h-1zM12 44h1v1h-1zM13 44h1v1h-1zM14 44h1v1h-1zM11 45h1v1h-1zM15 45h1v1h-1zM15 46h1v1h-1zM15 47h1v1h-1zM12 50h1v1h-1zM11 51h1v1h-1zM11 52h1v1h-1zM12 52h1v1h-1zM13 52h1v1h-1zM14 52h1v1h-1zM15 52h1v1h-1zM17 44h1v1h-1zM18 44h1v1h-1zM19 44h1v1h-1zM20 44h1v1h-1zM21 44h1v1h-1zM20 45h1v1h-1zM20 46h1v1h-1zM19 48h1v1h-1zM18 50h1v1h-1zM18 51h1v1h-1zM18 52h1v1h-1zM25 44h1v1h-1zM26 44h1v1h-1zM27 44h1v1h-1zM24 45h1v1h-1zM28 45h1v1h-1zM28 46h1v1h-1zM28 47h1v1h-1zM25 50h1v1h-1zM24 51h1v1h-1zM24 52h1v1h-1zM25 52h1v1h-1zM26 52h1v1h-1zM27 52h1v1h-1zM28 52h1v1h-1zM32 44h1v1h-1zM33 44h1v1h-1zM34 44h1v1h-1zM31 45h1v1h-1zM35 45h1v1h-1zM31 46h1v1h-1zM35 46h1v1h-1zM31 47h1v1h-1zM35 47h1v1h-1zM31 48h1v1h-1zM35 48h1v1h-1zM31 49h1v1h-1zM35 49h1v1h-1zM31 50h1v1h-1zM35 50h1v1h-1zM31 51h1v1h-1zM35 51h1v1h-1zM32 52h1v1h-1zM33 52h1v1h-1zM34 52h1v1h-1zM12 64h1v1h-1zM13 64h1v1h-1zM14 64h1v1h-1zM11 65h1v1h-1zM15 65h1v1h-1zM15 66h1v1h-1zM15 67h1v1h-1zM12 70h1v1h-1zM11 71h1v1h-1zM11 72h1v1h-1zM12 72h1v1h-1zM13 72h1v1h-1zM14 72h1v1h-1zM15 72h1v1h-1zM17 64h1v1h-1zM18 64h1v1h-1zM19 64h1v1h-1zM20 64h1v1h-1zM21 64h1v1h-1zM20 65h1v1h-1zM20 66h1v1h-1zM19 68h1v1h-1zM18 70h1v1h-1zM18 71h1v1h-1zM18 72h1v1h-1zM26 64h1v1h-1zM26 65h1v1h-1zM24 66h1v1h-1zM26 66h1v1h-1zM26 67h1v1h-1zM26 68h1v1h-1zM26 69h1v1h-1zM26 70h1v1h-1zM26 71h1v1h-1zM26 72h1v1h-1zM32 64h1v1h-1zM33 64h1v1h-1zM34 64h1v1h-1zM31 65h1v1h-1zM35 65h1v1h-1zM31 66h1v1h-1zM35 66h1v1h-1zM31 67h1v1h-1zM35 67h1v1h-1zM31 68h1v1h-1zM35 68h1v1h-1zM31 69h1v1h-1zM35 69h1v1h-1zM31 70h1v1h-1zM35 70h1v1h-1zM31 71h1v1h-1zM35 71h1v1h-1zM32 72h1v1h-1zM33 72h1v1h-1zM34 72h1v1h-1zM12 84h1v1h-1zM13 84h1v1h-1zM14 84h1v1h-1zM11 85h1v1h-1zM15 85h1v1h-1zM15 86h1v1h-1zM15 87h1v1h-1zM12 90h1v1h-1zM11 91h1v1h-1zM11 92h1v1h-1zM12 92h1v1h-1zM13 92h1v1h-1zM14 92h1v1h-1zM15 92h1v1h-1zM17 84h1v1h-1zM18 84h1v1h-1zM19 84h1v1h-1zM20 84h1v1h-1zM21 84h1v1h-1zM20 85h1v1h-1zM20 86h1v1h-1zM19 88h1v1h-1zM18 90h1v1h-1zM18 91h1v1h-1zM18 92h1v1h-1zM25 84h1v1h-1zM26 84h1v1h-1zM27 84h1v1h-1zM24 85h1v1h-1zM28 85h1v1h-1zM24 86h1v1h-1zM28 86h1v1h-1zM24 87h1v1h-1zM28 87h1v1h-1zM24 88h1v1h-1zM28 88h1v1h-1zM24 89h1v1h-1zM28 89h1v1h-1zM24 90h1v1h-1zM28 90h1v1h-1zM24 91h1v1h-1zM28 91h1v1h-1zM25 92h1v1h-1zM26 92h1v1h-1zM27 92h1v1h-1zM32 84h1v1h-1zM33 84h1v1h-1zM34 84h1v1h-1zM31 85h1v1h-1zM35 85h1v1h-1zM31 86h1v1h-1zM35 86h1v1h-1zM31 87h1v1h-1zM35 87h1v1h-1zM31 88h1v1h-1zM35 88h1v1h-1zM31 89h1v1h-1zM35 89h1v1h-1zM31 90h1v1h-1zM35 90h1v1h-1zM31 91h1v1h-1zM35 91h1v1h-1zM32 92h1v1h-1zM33 92h1v1h-1zM34 92h1v1h-1zM12 104h1v1h-1zM13 104h1v1h-1zM14 104h1v1h-1zM11 105h1v1h-1zM15 105h1v1h-1zM15 106h1v1h-1zM15 107h1v1h-1zM12 110h1v1h-1zM11 111h1v1h-1zM11 112h1v1h-1zM12 112h1v1h-1zM13 112h1v1h-1zM14 112h1v1h-1zM15 112h1v1h-1zM18 104h1v1h-1zM19 104h1v1h-1zM20 104h1v1h-1zM17 105h1v1h-1zM21 105h1v1h-1zM17 106h1v1h-1zM17 107h1v1h-1zM18 107h1v1h-1zM19 107h1v1h-1zM20 107h1v1h-1zM17 108h1v1h-1zM21 108h1v1h-1zM17 109h1v1h-1zM21 109h1v1h-1zM17 110h1v1h-1zM21 110h1v1h-1zM17 111h1v1h-1zM21 111h1v1h-1zM18 112h1v1h-1zM19 112h1v1h-1zM20 112h1v1h-1zM25 104h1v1h-1zM26 104h1v1h-1zM27 104h1v1h-1zM24 105h1v1h-1zM28 105h1v1h-1zM24 106h1v1h-1zM28 106h1v1h-1zM24 107h1v1h-1zM28 107h1v1h-1zM28 108h1v1h-1zM25 109h1v1h-1zM26 109h1v1h-1zM27 109h1v1h-1zM28 109h1v1h-1zM28 110h1v1h-1zM24 111h1v1h-1zM28 111h1v1h-1zM25 112h1v1h-1zM26 112h1v1h-1zM27 112h1v1h-1zM32 104h1v1h-1zM33 104h1v1h-1zM34 104h1v1h-1zM31 105h1v1h-1zM35 105h1v1h-1zM31 106h1v1h-1zM35 106h1v1h-1zM31 107h1v1h-1zM35 107h1v1h-1zM31 108h1v1h-1zM35 108h1v1h-1zM31 109h1v1h-1zM35 109h1v1h-1zM31 110h1v1h-1zM35 110h1v1h-1zM31 111h1v1h-1zM35 111h1v1h-1zM32 112h1v1h-1zM33 112h1v1h-1zM34 112h1v1h-1zM12 124h1v1h-1zM13 124h1v1h-1zM14 124h1v1h-1zM11 125h1v1h-1zM15 125h1v1h-1zM15 126h1v1h-1zM15 127h1v1h-1zM12 130h1v1h-1zM11 131h1v1h-1zM11 132h1v1h-1zM12 132h1v1h-1zM13 132h1v1h-1zM14 132h1v1h-1zM15 132h1v1h-1zM18 124h1v1h-1zM19 124h1v1h-1zM20 124h1v1h-1zM17 125h1v1h-1zM21 125h1v1h-1zM17 126h1v1h-1zM17 127h1v1h-1zM18 127h1v1h-1zM19 127h1v1h-1zM20 127h1v1h-1zM17 128h1v1h-1zM21 128h1v1h-1zM17 129h1v1h-1zM21 129h1v1h-1zM17 130h1v1h-1zM21 130h1v1h-1zM17 131h1v1h-1zM21 131h1v1h-1zM18 132h1v1h-1zM19 132h1v1h-1zM20 132h1v1h-1zM25 124h1v1h-1zM26 124h1v1h-1zM27 124h1v1h-1zM24 125h1v1h-1zM28 125h1v1h-1zM24 126h1v1h-1zM28 126h1v1h-1zM25 128h1v1h-1zM26 128h1v1h-1zM27 128h1v1h-1zM24 129h1v1h-1zM28 129h1v1h-1zM24 130h1v1h-1zM28 130h1v1h-1zM24 131h1v1h-1zM28 131h1v1h-1zM25 132h1v1h-1zM26 132h1v1h-1zM27 132h1v1h-1zM32 124h1v1h-1zM33 124h1v1h-1zM34 124h1v1h-1zM31 125h1v1h-1zM35 125h1v1h-1zM31 126h1v1h-1zM35 126h1v1h-1zM31 127h1v1h-1zM35 127h1v1h-1zM31 128h1v1h-1zM35 128h1v1h-1zM31 129h1v1h-1zM35 129h1v1h-1zM31 130h1v1h-1zM35 130h1v1h-1zM31 131h1v1h-1zM35 131h1v1h-1zM32 132h1v1h-1zM33 132h1v1h-1zM34 132h1v1h-1zM12 144h1v1h-1zM13 144h1v1h-1zM14 144h1v1h-1zM11 145h1v1h-1zM15 145h1v1h-1zM15 146h1v1h-1zM15 147h1v1h-1zM12 150h1v1h-1zM11 151h1v1h-1zM11 152h1v1h-1zM12 152h1v1h-1zM13 152h1v1h-1zM14 152h1v1h-1zM15 152h1v1h-1zM18 144h1v1h-1zM19 144h1v1h-1zM20 144h1v1h-1zM17 145h1v1h-1zM21 145h1v1h-1zM17 146h1v1h-1zM17 147h1v1h-1zM18 147h1v1h-1zM19 147h1v1h-1zM20 147h1v1h-1zM17 148h1v1h-1zM21 148h1v1h-1zM17 149h1v1h-1zM21 149h1v1h-1zM17 150h1v1h-1zM21 150h1v1h-1zM17 151h1v1h-1zM21 151h1v1h-1zM18 152h1v1h-1zM19 152h1v1h-1zM20 152h1v1h-1zM24 144h1v1h-1zM25 144h1v1h-1zM26 144h1v1h-1zM27 144h1v1h-1zM28 144h1v1h-1zM27 145h1v1h-1zM27 146h1v1h-1zM26 148h1v1h-1zM25 150h1v1h-1zM25 151h1v1h-1zM25 152h1v1h-1zM32 144h1v1h-1zM33 144h1v1h-1zM34 144h1v1h-1zM31 145h1v1h-1zM35 145h1v1h-1zM31 146h1v1h-1zM35 146h1v1h-1zM31 147h1v1h-1zM35 147h1v1h-1zM31 148h1v1h-1zM35 148h1v1h-1zM31 149h1v1h-1zM35 149h1v1h-1zM31 150h1v1h-1zM35 150h1v1h-1zM31 151h1v1h-1zM35 151h1v1h-1zM32 152h1v1h-1zM33 152h1v1h-1zM34 152h1v1h-1zM12 164h1v1h-1zM13 164h1v1h-1zM14 164h1v1h-1zM11 165h1v1h-1zM15 165h1v1h-1zM15 166h1v1h-1zM15 167h1v1h-1zM12 170h1v1h-1zM11 171h1v1h-1zM11 172h1v1h-1zM12 172h1v1h-1zM13 172h1v1h-1zM14 172h1v1h-1zM15 172h1v1h-1zM18 164h1v1h-1zM19 164h1v1h-1zM20 164h1v1h-1zM17 165h1v1h-1zM21 165h1v1h-1zM17 166h1v1h-1zM17 167h1v1h-1zM18 167h1v1h-1zM19 167h1v1h-1zM20 167h1v1h-1zM17 168h1v1h-1zM21 168h1v1h-1zM17 169h1v1h-1zM21 169h1v1h-1zM17 170h1v1h-1zM21 170h1v1h-1zM17 171h1v1h-1zM21 171h1v1h-1zM18 172h1v1h-1zM19 172h1v1h-1zM20 172h1v1h-1zM25 164h1v1h-1zM26 164h1v1h-1zM27 164h1v1h-1zM24 165h1v1h-1zM28 165h1v1h-1zM24 166h1v1h-1zM24 167h1v1h-1zM25 167h1v1h-1zM26 167h1v1h-1zM27 167h1v1h-1zM24 168h1v1h-1zM28 168h1v1h-1zM24 169h1v1h-1zM28 169h1v1h-1zM24 170h1v1h-1zM28 170h1v1h-1zM24 171h1v1h-1zM28 171h1v1h-1zM25 172h1v1h-1zM26 172h1v1h-1zM27 172h1v1h-1zM32 164h1v1h-1zM33 164h1v1h-1zM34 164h1v1h-1zM31 165h1v1h-1zM35 165h1v1h-1zM31 166h1v1h-1zM35 166h1v1h-1zM31 167h1v1h-1zM35 167h1v1h-1zM31 168h1v1h-1zM35 168h1v1h-1zM31 169h1v1h-1zM35 169h1v1h-1zM31 170h1v1h-1zM35 170h1v1h-1zM31 171h1v1h-1zM35 171h1v1h-1zM32 172h1v1h-1zM33 172h1v1h-1zM34 172h1v1h-1zM12 184h1v1h-1zM13 184h1v1h-1zM14 184h1v1h-1zM11 185h1v1h-1zM15 185h1v1h-1zM15 186h1v1h-1zM15 187h1v1h-1zM12 190h1v1h-1zM11 191h1v1h-1zM11 192h1v1h-1zM12 192h1v1h-1zM13 192h1v1h-1zM14 192h1v1h-1zM15 192h1v1h-1zM18 184h1v1h-1zM19 184h1v1h-1zM20 184h1v1h-1zM17 185h1v1h-1zM21 185h1v1h-1zM17 186h1v1h-1zM17 187h1v1h-1zM18 187h1v1h-1zM19 187h1v1h-1zM20 187h1v1h-1zM17 188h1v1h-1zM21 188h1v1h-1zM17 189h1v1h-1zM21 189h1v1h-1zM17 190h1v1h-1zM21 190h1v1h-1zM17 191h1v1h-1zM21 191h1v1h-1zM18 192h1v1h-1zM19 192h1v1h-1zM20 192h1v1h-1zM25 184h1v1h-1zM26 184h1v1h-1zM27 184h1v1h-1zM28 184h1v1h-1zM25 185h1v1h-1zM24 187h1v1h-1zM25 187h1v1h-1zM26 187h1v1h-1zM27 187h1v1h-1zM28 188h1v1h-1zM28 189h1v1h-1zM28 190h1v1h-1zM24 191h1v1h-1zM28 191h1v1h-1zM25 192h1v1h-1zM26 192h1v1h-1zM27 192h1v1h-1zM32 184h1v1h-1zM33 184h1v1h-1zM34 184h1v1h-1zM31 185h1v1h-1zM35 185h1v1h-1zM31 186h1v1h-1zM35 186h1v1h-1zM31 187h1v1h-1zM35 187h1v1h-1zM31 188h1v1h-1zM35 188h1v1h-1zM31 189h1v1h-1zM35 189h1v1h-1zM31 190h1v1h-1zM35 190h1v1h-1zM31 191h1v1h-1zM35 191h1v1h-1zM32 192h1v1h-1zM33 192h1v1h-1zM34 192h1v1h-1zM12 204h1v1h-1zM13 204h1v1h-1zM14 204h1v1h-1zM11 205h1v1h-1zM15 205h1v1h-1zM15 206h1v1h-1zM15 207h1v1h-1zM12 210h1v1h-1zM11 211h1v1h-1zM11 212h1v1h-1zM12 212h1v1h-1zM13 212h1v1h-1zM14 212h1v1h-1zM15 212h1v1h-1zM18 204h1v1h-1zM19 204h1v1h-1zM20 204h1v1h-1zM17 205h1v1h-1zM21 205h1v1h-1zM17 206h1v1h-1zM17 207h1v1h-1zM18 207h1v1h-1zM19 207h1v1h-1zM20 207h1v1h-1zM17 208h1v1h-1zM21 208h1v1h-1zM17 209h1v1h-1zM21 209h1v1h-1zM17 210h1v1h-1zM21 210h1v1h-1zM17 211h1v1h-1zM21 211h1v1h-1zM18 212h1v1h-1zM19 212h1v1h-1zM20 212h1v1h-1zM27 204h1v1h-1zM26 205h1v1h-1zM27 205h1v1h-1zM27 206h1v1h-1zM25 207h1v1h-1zM27 207h1v1h-1zM27 208h1v1h-1zM24 209h1v1h-1zM27 209h1v1h-1zM24 210h1v1h-1zM25 210h1v1h-1zM26 210h1v1h-1zM27 210h1v1h-1zM28 210h1v1h-1zM27 211h1v1h-1zM27 212h1v1h-1zM32 204h1v1h-1zM33 204h1v1h-1zM34 204h1v1h-1zM31 205h1v1h-1zM35 205h1v1h-1zM31 206h1v1h-1zM35 206h1v1h-1zM31 207h1v1h-1zM35 207h1v1h-1zM31 208h1v1h-1zM35 208h1v1h-1zM31 209h1v1h-1zM35 209h1v1h-1zM31 210h1v1h-1zM35 210h1v1h-1zM31 211h1v1h-1zM35 211h1v1h-1zM32 212h1v1h-1zM33 212h1v1h-1zM34 212h1v1h-1zM12 225h1v1h-1zM13 225h1v1h-1zM14 225h1v1h-1zM11 226h1v1h-1zM15 226h1v1h-1zM15 227h1v1h-1zM15 228h1v1h-1zM12 231h1v1h-1zM11 232h1v1h-1zM11 233h1v1h-1zM12 233h1v1h-1zM13 233h1v1h-1zM14 233h1v1h-1zM15 233h1v1h-1zM18 225h1v1h-1zM19 225h1v1h-1zM20 225h1v1h-1zM17 226h1v1h-1zM21 226h1v1h-1zM17 227h1v1h-1zM17 228h1v1h-1zM18 228h1v1h-1zM19 228h1v1h-1zM20 228h1v1h-1zM17 229h1v1h-1zM21 229h1v1h-1zM17 230h1v1h-1zM21 230h1v1h-1zM17 231h1v1h-1zM21 231h1v1h-1zM17 232h1v1h-1zM21 232h1v1h-1zM18 233h1v1h-1zM19 233h1v1h-1zM20 233h1v1h-1zM25 225h1v1h-1zM26 225h1v1h-1zM27 225h1v1h-1zM24 226h1v1h-1zM28 226h1v1h-1zM28 227h1v1h-1zM26 229h1v1h-1zM27 229h1v1h-1zM28 230h1v1h-1zM28 231h1v1h-1zM24 232h1v1h-1zM28 232h1v1h-1zM25 233h1v1h-1zM26 233h1v1h-1zM27 233h1v1h-1zM32 225h1v1h-1zM33 225h1v1h-1zM34 225h1v1h-1zM31 226h1v1h-1zM35 226h1v1h-1zM31 227h1v1h-1zM35 227h1v1h-1zM31 228h1v1h-1zM35 228h1v1h-1zM31 229h1v1h-1zM35 229h1v1h-1zM31 230h1v1h-1zM35 230h1v1h-1zM31 231h1v1h-1zM35 231h1v1h-1zM31 232h1v1h-1zM35 232h1v1h-1zM32 233h1v1h-1zM33 233h1v1h-1zM34 233h1v1h-1zM12 245h1v1h-1zM13 245h1v1h-1zM14 245h1v1h-1zM11 246h1v1h-1zM15 246h1v1h-1zM15 247h1v1h-1zM15 248h1v1h-1zM12 251h1v1h-1zM11 252h1v1h-1zM11 253h1v1h-1zM12 253h1v1h-1zM13 253h1v1h-1zM14 253h1v1h-1zM15 253h1v1h-1zM18 245h1v1h-1zM19 245h1v1h-1zM20 245h1v1h-1zM17 246h1v1h-1zM21 246h1v1h-1zM17 247h1v1h-1zM17 248h1v1h-1zM18 248h1v1h-1zM19 248h1v1h-1zM20 248h1v1h-1zM17 249h1v1h-1zM21 249h1v1h-1zM17 250h1v1h-1zM21 250h1v1h-1zM17 251h1v1h-1zM21 251h1v1h-1zM17 252h1v1h-1zM21 252h1v1h-1zM18 253h1v1h-1zM19 253h1v1h-1zM20 253h1v1h-1zM25 245h1v1h-1zM26 245h1v1h-1zM27 245h1v1h-1zM24 246h1v1h-1zM28 246h1v1h-1zM28 247h1v1h-1zM28 248h1v1h-1zM25 251h1v1h-1zM24 252h1v1h-1zM24 253h1v1h-1zM25 253h1v1h-1zM26 253h1v1h-1zM27 253h1v1h-1zM28 253h1v1h-1zM32 245h1v1h-1zM33 245h1v1h-1zM34 245h1v1h-1zM31 246h1v1h-1zM35 246h1v1h-1zM31 247h1v1h-1zM35 247h1v1h-1zM31 248h1v1h-1zM35 248h1v1h-1zM31 249h1v1h-1zM35 249h1v1h-1zM31 250h1v1h-1zM35 250h1v1h-1zM31 251h1v1h-1zM35 251h1v1h-1zM31 252h1v1h-1zM35 252h1v1h-1zM32 253h1v1h-1zM33 253h1v1h-1zM34 253h1v1h-1zM12 265h1v1h-1zM13 265h1v1h-1zM14 265h1v1h-1zM11 266h1v1h-1zM15 266h1v1h-1zM15 267h1v1h-1zM15 268h1v1h-1zM12 271h1v1h-1zM11 272h1v1h-1zM11 273h1v1h-1zM12 273h1v1h-1zM13 273h1v1h-1zM14 273h1v1h-1zM15 273h1v1h-1zM18 265h1v1h-1zM19 265h1v1h-1zM20 265h1v1h-1zM17 266h1v1h-1zM21 266h1v1h-1zM17 267h1v1h-1zM17 268h1v1h-1zM18 268h1v1h-1zM19 268h1v1h-1zM20 268h1v1h-1zM17 269h1v1h-1zM21 269h1v1h-1zM17 270h1v1h-1zM21 270h1v1h-1zM17 271h1v1h-1zM21 271h1v1h-1zM17 272h1v1h-1zM21 272h1v1h-1zM18 273h1v1h-1zM19 273h1v1h-1zM20 273h1v1h-1zM26 265h1v1h-1zM26 266h1v1h-1zM24 267h1v1h-1zM26 267h1v1h-1zM26 268h1v1h-1zM26 269h1v1h-1zM26 270h1v1h-1zM26 271h1v1h-1zM26 272h1v1h-1zM26 273h1v1h-1zM32 265h1v1h-1zM33 265h1v1h-1zM34 265h1v1h-1zM31 266h1v1h-1zM35 266h1v1h-1zM31 267h1v1h-1zM35 267h1v1h-1zM31 268h1v1h-1zM35 268h1v1h-1zM31 269h1v1h-1zM35 269h1v1h-1zM31 270h1v1h-1zM35 270h1v1h-1zM31 271h1v1h-1zM35 271h1v1h-1zM31 272h1v1h-1zM35 272h1v1h-1zM32 273h1v1h-1zM33 273h1v1h-1zM34 273h1v1h-1zM12 285h1v1h-1zM13 285h1v1h-1zM14 285h1v1h-1zM11 286h1v1h-1zM15 286h1v1h-1zM15 287h1v1h-1zM15 288h1v1h-1zM12 291h1v1h-1zM11 292h1v1h-1zM11 293h1v1h-1zM12 293h1v1h-1zM13 293h1v1h-1zM14 293h1v1h-1zM15 293h1v1h-1zM18 285h1v1h-1zM19 285h1v1h-1zM20 285h1v1h-1zM17 286h1v1h-1zM21 286h1v1h-1zM17 287h1v1h-1zM17 288h1v1h-1zM18 288h1v1h-1zM19 288h1v1h-1zM20 288h1v1h-1zM17 289h1v1h-1zM21 289h1v1h-1zM17 290h1v1h-1zM21 290h1v1h-1zM17 291h1v1h-1zM21 291h1v1h-1zM17 292h1v1h-1zM21 292h1v1h-1zM18 293h1v1h-1zM19 293h1v1h-1zM20 293h1v1h-1zM25 285h1v1h-1zM26 285h1v1h-1zM27 285h1v1h-1zM24 286h1v1h-1zM28 286h1v1h-1zM24 287h1v1h-1zM28 287h1v1h-1zM24 288h1v1h-1zM28 288h1v1h-1zM24 289h1v1h-1zM28 289h1v1h-1zM24 290h1v1h-1zM28 290h1v1h-1zM24 291h1v1h-1zM28 291h1v1h-1zM24 292h1v1h-1zM28 292h1v1h-1zM25 293h1v1h-1zM26 293h1v1h-1zM27 293h1v1h-1zM32 285h1v1h-1zM33 285h1v1h-1zM34 285h1v1h-1zM31 286h1v1h-1zM35 286h1v1h-1zM31 287h1v1h-1zM35 287h1v1h-1zM31 288h1v1h-1zM35 288h1v1h-1zM31 289h1v1h-1zM35 289h1v1h-1zM31 290h1v1h-1zM35 290h1v1h-1zM31 291h1v1h-1zM35 291h1v1h-1zM31 292h1v1h-1zM35 292h1v1h-1zM32 293h1v1h-1zM33 293h1v1h-1zM34 293h1v1h-1zM12 305h1v1h-1zM13 305h1v1h-1zM14 305h1v1h-1zM11 306h1v1h-1zM15 306h1v1h-1zM15 307h1v1h-1zM15 308h1v1h-1zM12 311h1v1h-1zM11 312h1v1h-1zM11 313h1v1h-1zM12 313h1v1h-1zM13 313h1v1h-1zM14 313h1v1h-1zM15 313h1v1h-1zM18 305h1v1h-1zM19 305h1v1h-1zM20 305h1v1h-1zM21 305h1v1h-1zM18 306h1v1h-1zM17 308h1v1h-1zM18 308h1v1h-1zM19 308h1v1h-1zM20 308h1v1h-1zM21 309h1v1h-1zM21 310h1v1h-1zM21 311h1v1h-1zM17 312h1v1h-1zM21 312h1v1h-1zM18 313h1v1h-1zM19 313h1v1h-1zM20 313h1v1h-1zM25 305h1v1h-1zM26 305h1v1h-1zM27 305h1v1h-1zM24 306h1v1h-1zM28 306h1v1h-1zM24 307h1v1h-1zM28 307h1v1h-1zM24 308h1v1h-1zM28 308h1v1h-1zM28 309h1v1h-1zM25 310h1v1h-1zM26 310h1v1h-1zM27 310h1v1h-1zM28 310h1v1h-1zM28 311h1v1h-1zM24 312h1v1h-1zM28 312h1v1h-1zM25 313h1v1h-1zM26 313h1v1h-1zM27 313h1v1h-1zM32 305h1v1h-1zM33 305h1v1h-1zM34 305h1v1h-1zM31 306h1v1h-1zM35 306h1v1h-1zM31 307h1v1h-1zM35 307h1v1h-1zM31 308h1v1h-1zM35 308h1v1h-1zM31 309h1v1h-1zM35 309h1v1h-1zM31 310h1v1h-1zM35 310h1v1h-1zM31 311h1v1h-1zM35 311h1v1h-1zM31 312h1v1h-1zM35 312h1v1h-1zM32 313h1v1h-1zM33 313h1v1h-1zM34 313h1v1h-1zM12 325h1v1h-1zM13 325h1v1h-1zM14 325h1v1h-1zM11 326h1v1h-1zM15 326h1v1h-1zM15 327h1v1h-1zM15 328h1v1h-1zM12 331h1v1h-1zM11 332h1v1h-1zM11 333h1v1h-1zM12 333h1v1h-1zM13 333h1v1h-1zM14 333h1v1h-1zM15 333h1v1h-1zM18 325h1v1h-1zM19 325h1v1h-1zM20 325h1v1h-1zM21 325h1v1h-1zM18 326h1v1h-1zM17 328h1v1h-1zM18 328h1v1h-1zM19 328h1v1h-1zM20 328h1v1h-1zM21 329h1v1h-1zM21 330h1v1h-1zM21 331h1v1h-1zM17 332h1v1h-1zM21 332h1v1h-1zM18 333h1v1h-1zM19 333h1v1h-1zM20 333h1v1h-1zM25 325h1v1h-1zM26 325h1v1h-1zM27 325h1v1h-1zM24 326h1v1h-1zM28 326h1v1h-1zM24 327h1v1h-1zM28 327h1v1h-1zM25 329h1v1h-1zM26 329h1v1h-1zM27 329h1v1h-1zM24 330h1v1h-1zM28 330h1v1h-1zM24 331h1v1h-1zM28 331h1v1h-1zM24 332h1v1h-1zM28 332h1v1h-1zM25 333h1v1h-1zM26 333h1v1h-1zM27 333h1v1h-1zM32 325h1v1h-1zM33 325h1v1h-1zM34 325h1v1h-1zM31 326h1v1h-1zM35 326h1v1h-1zM31 327h1v1h-1zM35 327h1v1h-1zM31 328h1v1h-1zM35 328h1v1h-1zM31 329h1v1h-1zM35 329h1v1h-1zM31 330h1v1h-1zM35 330h1v1h-1zM31 331h1v1h-1zM35 331h1v1h-1zM31 332h1v1h-1zM35 332h1v1h-1zM32 333h1v1h-1zM33 333h1v1h-1zM34 333h1v1h-1zM12 345h1v1h-1zM13 345h1v1h-1zM14 345h1v1h-1zM11 346h1v1h-1zM15 346h1v1h-1zM15 347h1v1h-1zM15 348h1v1h-1zM12 351h1v1h-1zM11 352h1v1h-1zM11 353h1v1h-1zM12 353h1v1h-1zM13 353h1v1h-1zM14 353h1v1h-1zM15 353h1v1h-1zM18 345h1v1h-1zM19 345h1v1h-1zM20 345h1v1h-1zM21 345h1v1h-1zM18 346h1v1h-1zM17 348h1v1h-1zM18 348h1v1h-1zM19 348h1v1h-1zM20 348h1v1h-1zM21 349h1v1h-1zM21 350h1v1h-1zM21 351h1v1h-1zM17 352h1v1h-1zM21 352h1v1h-1zM18 353h1v1h-1zM19 353h1v1h-1zM20 353h1v1h-1zM24 345h1v1h-1zM25 345h1v1h-1zM26 345h1v1h-1zM27 345h1v1h-1zM28 345h1v1h-1zM27 346h1v1h-1zM27 347h1v1h-1zM26 349h1v1h-1zM25 351h1v1h-1zM25 352h1v1h-1zM25 353h1v1h-1zM32 345h1v1h-1zM33 345h1v1h-1zM34 345h1v1h-1zM31 346h1v1h-1zM35 346h1v1h-1zM31 347h1v1h-1zM35 347h1v1h-1zM31 348h1v1h-1zM35 348h1v1h-1zM31 349h1v1h-1zM35 349h1v1h-1zM31 350h1v1h-1zM35 350h1v1h-1zM31 351h1v1h-1zM35 351h1v1h-1zM31 352h1v1h-1zM35 352h1v1h-1zM32 353h1v1h-1zM33 353h1v1h-1zM34 353h1v1h-1zM12 365h1v1h-1zM13 365h1v1h-1zM14 365h1v1h-1zM11 366h1v1h-1zM15 366h1v1h-1zM15 367h1v1h-1zM15 368h1v1h-1zM12 371h1v1h-1zM11 372h1v1h-1zM11 373h1v1h-1zM12 373h1v1h-1zM13 373h1v1h-1zM14 373h1v1h-1zM15 373h1v1h-1zM18 365h1v1h-1zM19 365h1v1h-1zM20 365h1v1h-1zM21 365h1v1h-1zM18 366h1v1h-1zM17 368h1v1h-1zM18 368h1v1h-1zM19 368h1v1h-1zM20 368h1v1h-1zM21 369h1v1h-1zM21 370h1v1h-1zM21 371h1v1h-1zM17 372h1v1h-1zM21 372h1v1h-1zM18 373h1v1h-1zM19 373h1v1h-1zM20 373h1v1h-1zM25 365h1v1h-1zM26 365h1v1h-1zM27 365h1v1h-1zM24 366h1v1h-1zM28 366h1v1h-1zM24 367h1v1h-1zM24 368h1v1h-1zM25 368h1v1h-1zM26 368h1v1h-1zM27 368h1v1h-1zM24 369h1v1h-1zM28 369h1v1h-1zM24 370h1v1h-1zM28 370h1v1h-1zM24 371h1v1h-1zM28 371h1v1h-1zM24 372h1v1h-1zM28 372h1v1h-1zM25 373h1v1h-1zM26 373h1v1h-1zM27 373h1v1h-1zM32 365h1v1h-1zM33 365h1v1h-1zM34 365h1v1h-1zM31 366h1v1h-1zM35 366h1v1h-1zM31 367h1v1h-1zM35 367h1v1h-1zM31 368h1v1h-1zM35 368h1v1h-1zM31 369h1v1h-1zM35 369h1v1h-1zM31 370h1v1h-1zM35 370h1v1h-1zM31 371h1v1h-1zM35 371h1v1h-1zM31 372h1v1h-1zM35 372h1v1h-1zM32 373h1v1h-1zM33 373h1v1h-1zM34 373h1v1h-1zM12 385h1v1h-1zM13 385h1v1h-1zM14 385h1v1h-1zM11 386h1v1h-1zM15 386h1v1h-1zM15 387h1v1h-1zM15 388h1v1h-1zM12 391h1v1h-1zM11 392h1v1h-1zM11 393h1v1h-1zM12 393h1v1h-1zM13 393h1v1h-1zM14 393h1v1h-1zM15 393h1v1h-1zM18 385h1v1h-1zM19 385h1v1h-1zM20 385h1v1h-1zM21 385h1v1h-1zM18 386h1v1h-1zM17 388h1v1h-1zM18 388h1v1h-1zM19 388h1v1h-1zM20 388h1v1h-1zM21 389h1v1h-1zM21 390h1v1h-1zM21 391h1v1h-1zM17 392h1v1h-1zM21 392h1v1h-1zM18 393h1v1h-1zM19 393h1v1h-1zM20 393h1v1h-1zM25 385h1v1h-1zM26 385h1v1h-1zM27 385h1v1h-1zM28 385h1v1h-1zM25 386h1v1h-1zM24 388h1v1h-1zM25 388h1v1h-1zM26 388h1v1h-1zM27 388h1v1h-1zM28 389h1v1h-1zM28 390h1v1h-1zM28 391h1v1h-1zM24 392h1v1h-1zM28 392h1v1h-1zM25 393h1v1h-1zM26 393h1v1h-1zM27 393h1v1h-1zM32 385h1v1h-1zM33 385h1v1h-1zM34 385h1v1h-1zM31 386h1v1h-1zM35 386h1v1h-1zM31 387h1v1h-1zM35 387h1v1h-1zM31 388h1v1h-1zM35 388h1v1h-1zM31 389h1v1h-1zM35 389h1v1h-1zM31 390h1v1h-1zM35 390h1v1h-1zM31 391h1v1h-1zM35 391h1v1h-1zM31 392h1v1h-1zM35 392h1v1h-1zM32 393h1v1h-1zM33 393h1v1h-1zM34 393h1v1h-1zM12 405h1v1h-1zM13 405h1v1h-1zM14 405h1v1h-1zM11 406h1v1h-1zM15 406h1v1h-1zM15 407h1v1h-1zM15 408h1v1h-1zM12 411h1v1h-1zM11 412h1v1h-1zM11 413h1v1h-1zM12 413h1v1h-1zM13 413h1v1h-1zM14 413h1v1h-1zM15 413h1v1h-1zM18 405h1v1h-1zM19 405h1v1h-1zM20 405h1v1h-1zM21 405h1v1h-1zM18 406h1v1h-1zM17 408h1v1h-1zM18 408h1v1h-1zM19 408h1v1h-1zM20 408h1v1h-1zM21 409h1v1h-1zM21 410h1v1h-1zM21 411h1v1h-1zM17 412h1v1h-1zM21 412h1v1h-1zM18 413h1v1h-1zM19 413h1v1h-1zM20 413h1v1h-1zM27 405h1v1h-1zM26 406h1v1h-1zM27 406h1v1h-1zM27 407h1v1h-1zM25 408h1v1h-1zM27 408h1v1h-1zM27 409h1v1h-1zM24 410h1v1h-1zM27 410h1v1h-1zM24 411h1v1h-1zM25 411h1v1h-1zM26 411h1v1h-1zM27 411h1v1h-1zM28 411h1v1h-1zM27 412h1v1h-1zM27 413h1v1h-1zM32 405h1v1h-1zM33 405h1v1h-1zM34 405h1v1h-1zM31 406h1v1h-1zM35 406h1v1h-1zM31 407h1v1h-1zM35 407h1v1h-1zM31 408h1v1h-1zM35 408h1v1h-1zM31 409h1v1h-1zM35 409h1v1h-1zM31 410h1v1h-1zM35 410h1v1h-1zM31 411h1v1h-1zM35 411h1v1h-1zM31 412h1v1h-1zM35 412h1v1h-1zM32 413h1v1h-1zM33 413h1v1h-1zM34 413h1v1h-1z"/><path fill="#7a7a7a" d="M14 7h1v1h-1zM14 8h1v1h-1zM13 9h1v1h-1zM12 11h1v1h-1zM19 7h1v1h-1zM18 9h1v1h-1zM19 9h1v1h-1zM25 6h1v1h-1zM26 6h1v1h-1zM24 8h1v1h-1zM25 8h1v1h-1zM14 27h1v1h-1zM14 28h1v1h-1zM13 29h1v1h-1zM12 31h1v1h-1zM19 27h1v1h-1zM18 29h1v1h-1zM19 29h1v1h-1zM27 27h1v1h-1zM28 27h1v1h-1zM14 47h1v1h-1zM14 48h1v1h-1zM13 49h1v1h-1zM12 51h1v1h-1zM19 47h1v1h-1zM18 49h1v1h-1zM19 49h1v1h-1zM27 47h1v1h-1zM27 48h1v1h-1zM26 49h1v1h-1zM25 51h1v1h-1zM14 67h1v1h-1zM14 68h1v1h-1zM13 69h1v1h-1zM12 71h1v1h-1zM19 67h1v1h-1zM18 69h1v1h-1zM19 69h1v1h-1zM25 65h1v1h-1zM14 87h1v1h-1zM14 88h1v1h-1zM13 89h1v1h-1zM12 91h1v1h-1zM19 87h1v1h-1zM18 89h1v1h-1zM19 89h1v1h-1zM14 107h1v1h-1zM14 108h1v1h-1zM13 109h1v1h-1zM12 111h1v1h-1zM24 108h1v1h-1zM14 127h1v1h-1zM14 128h1v1h-1zM13 129h1v1h-1zM12 131h1v1h-1zM24 127h1v1h-1zM28 127h1v1h-1zM14 147h1v1h-1zM14 148h1v1h-1zM13 149h1v1h-1zM12 151h1v1h-1zM26 147h1v1h-1zM25 149h1v1h-1zM26 149h1v1h-1zM14 167h1v1h-1zM14 168h1v1h-1zM13 169h1v1h-1zM12 171h1v1h-1zM14 187h1v1h-1zM14 188h1v1h-1zM13 189h1v1h-1zM12 191h1v1h-1zM24 186h1v1h-1zM25 186h1v1h-1zM14 207h1v1h-1zM14 208h1v1h-1zM13 209h1v1h-1zM12 211h1v1h-1zM25 206h1v1h-1zM26 206h1v1h-1zM24 208h1v1h-1zM25 208h1v1h-1zM14 228h1v1h-1zM14 229h1v1h-1zM13 230h1v1h-1zM12 232h1v1h-1zM27 228h1v1h-1zM28 228h1v1h-1zM14 248h1v1h-1zM14 249h1v1h-1zM13 250h1v1h-1zM12 252h1v1h-1zM27 248h1v1h-1zM27 249h1v1h-1zM26 250h1v1h-1zM25 252h1v1h-1zM14 268h1v1h-1zM14 269h1v1h-1zM13 270h1v1h-1zM12 272h1v1h-1zM25 266h1v1h-1zM14 288h1v1h-1zM14 289h1v1h-1zM13 290h1v1h-1zM12 292h1v1h-1zM14 308h1v1h-1zM14 309h1v1h-1zM13 310h1v1h-1zM12 312h1v1h-1zM17 307h1v1h-1zM18 307h1v1h-1zM24 309h1v1h-1zM14 328h1v1h-1zM14 329h1v1h-1zM13 330h1v1h-1zM12 332h1v1h-1zM17 327h1v1h-1zM18 327h1v1h-1zM24 328h1v1h-1zM28 328h1v1h-1zM14 348h1v1h-1zM14 349h1v1h-1zM13 350h1v1h-1zM12 352h1v1h-1zM17 347h1v1h-1zM18 347h1v1h-1zM26 348h1v1h-1zM25 350h1v1h-1zM26 350h1v1h-1zM14 368h1v1h-1zM14 369h1v1h-1zM13 370h1v1h-1zM12 372h1v1h-1zM17 367h1v1h-1zM18 367h1v1h-1zM14 388h1v1h-1zM14 389h1v1h-1zM13 390h1v1h-1zM12 392h1v1h-1zM17 387h1v1h-1zM18 387h1v1h-1zM24 387h1v1h-1zM25 387h1v1h-1zM14 408h1v1h-1zM14 409h1v1h-1zM13 410h1v1h-1zM12 412h1v1h-1zM17 407h1v1h-1zM18 407h1v1h-1zM25 407h1v1h-1zM26 407h1v1h-1zM24 409h1v1h-1zM25 409h1v1h-1z"/><path fill="#d0d0d0" d="M11 4h1v1h-1zM15 4h1v1h-1zM31 4h1v1h-1zM35 4h1v1h-1zM31 12h1v1h-1zM35 12h1v1h-1zM11 24h1v1h-1zM15 24h1v1h-1zM24 24h1v1h-1zM28 24h1v1h-1zM24 32h1v1h-1zM28 32h1v1h-1zM31 24h1v1h-1zM35 24h1v1h-1zM31 32h1v1h-1zM35 32h1v1h-1zM11 44h1v1h-1zM15 44h1v1h-1zM24 44h1v1h-1zM28 44h1v1h-1zM31 44h1v1h-1zM35 44h1v1h-1zM31 52h1v1h-1zM35 52h1v1h-1zM11 64h1v1h-1zM15 64h1v1h-1zM31 64h1v1h-1zM35 64h1v1h-1zM31 72h1v1h-1zM35 72h1v1h-1zM11 84h1v1h-1zM15 84h1v1h-1zM24 84h1v1h-1zM28 84h1v1h-1zM24 92h1v1h-1zM28 92h1v1h-1zM31 84h1v1h-1zM35 84h1v1h-1zM31 92h1v1h-1zM35 92h1v1h-1zM11 104h1v1h-1zM15 104h1v1h-1zM17 104h1v1h-1zM21 104h1v1h-1zM21 107h1v1h-1zM17 112h1v1h-1zM21 112h1v1h-1zM24 104h1v1h-1zM28 104h1v1h-1zM24 109h1v1h-1zM24 112h1v1h-1zM28 112h1v1h-1zM31 104h1v1h-1zM35 104h1v1h-1zM31 112h1v1h-1zM35 112h1v1h-1zM11 124h1v1h-1zM15 124h1v1h-1zM17 124h1v1h-1zM21 124h1v1h-1zM21 127h1v1h-1zM17 132h1v1h-1zM21 132h1v1h-1zM24 124h1v1h-1zM28 124h1v1h-1zM24 132h1v1h-1zM28 132h1v1h-1zM31 124h1v1h-1zM35 124h1v1h-1zM31 132h1v1h-1zM35 132h1v1h-1zM11 144h1v1h-1zM15 144h1v1h-1zM17 144h1v1h-1zM21 144h1v1h-1zM21 147h1v1h-1zM17 152h1v1h-1zM21 152h1v1h-1zM31 144h1v1h-1zM35 144h1v1h-1zM31 152h1v1h-1zM35 152h1v1h-1zM11 164h1v1h-1zM15 164h1v1h-1zM17 164h1v1h-1zM21 164h1v1h-1zM21 167h1v1h-1zM17 172h1v1h-1zM21 172h1v1h-1zM24 164h1v1h-1zM28 164h1v1h-1zM28 167h1v1h-1zM24 172h1v1h-1zM28 172h1v1h-1zM31 164h1v1h-1zM35 164h1v1h-1zM31 172h1v1h-1zM35 172h1v1h-1zM11 184h1v1h-1zM15 184h1v1h-1zM17 184h1v1h-1zM21 184h1v1h-1zM21 187h1v1h-1zM17 192h1v1h-1zM21 192h1v1h-1zM28 187h1v1h-1zM24 192h1v1h-1zM28 192h1v1h-1zM31 184h1v1h-1zM35 184h1v1h-1zM31 192h1v1h-1zM35 192h1v1h-1zM11 204h1v1h-1zM15 204h1v1h-1zM17 204h1v1h-1zM21 204h1v1h-1zM21 207h1v1h-1zM17 212h1v1h-1zM21 212h1v1h-1zM31 204h1v1h-1zM35 204h1v1h-1zM31 212h1v1h-1zM35 212h1v1h-1zM11 225h1v1h-1zM15 225h1v1h-1zM17 225h1v1h-1zM21 225h1v1h-1zM21 228h1v1h-1zM17 233h1v1h-1zM21 233h1v1h-1zM24 225h1v1h-1zM28 225h1v1h-1zM24 233h1v1h-1zM28 233h1v1h-1zM31 225h1v1h-1zM35 225h1v1h-1zM31 233h1v1h-1zM35 233h1v1h-1zM11 245h1v1h-1zM15 245h1v1h-1zM17 245h1v1h-1zM21 245h1v1h-1zM21 248h1v1h-1zM17 253h1v1h-1zM21 253h1v1h-1zM24 245h1v1h-1zM28 245h1v1h-1zM31 245h1v1h-1zM35 245h1v1h-1zM31 253h1v1h-1zM35 253h1v1h-1zM11 265h1v1h-1zM15 265h1v1h-1zM17 265h1v1h-1zM21 265h1v1h-1zM21 268h1v1h-1zM17 273h1v1h-1zM21 273h1v1h-1zM31 265h1v1h-1zM35 265h1v1h-1zM31 273h1v1h-1zM35 273h1v1h-1zM11 285h1v1h-1zM15 285h1v1h-1zM17 285h1v1h-1zM21 285h1v1h-1zM21 288h1v1h-1zM17 293h1v1h-1zM21 293h1v1h-1zM24 285h1v1h-1zM28 285h1v1h-1zM24 293h1v1h-1zM28 293h1v1h-1zM31 285h1v1h-1zM35 285h1v1h-1zM31 293h1v1h-1zM35 293h1v1h-1zM11 305h1v1h-1zM15 305h1v1h-1zM21 308h1v1h-1zM17 313h1v1h-1zM21 313h1v1h-1zM24 305h1v1h-1zM28 305h1v1h-1zM24 310h1v1h-1zM24 313h1v1h-1zM28 313h1v1h-1zM31 305h1v1h-1zM35 305h1v1h-1zM31 313h1v1h-1zM35 313h1v1h-1zM11 325h1v1h-1zM15 325h1v1h-1zM21 328h1v1h-1zM17 333h1v1h-1zM21 333h1v1h-1zM24 325h1v1h-1zM28 325h1v1h-1zM24 333h1v1h-1zM28 333h1v1h-1zM31 325h1v1h-1zM35 325h1v1h-1zM31 333h1v1h-1zM35 333h1v1h-1zM11 345h1v1h-1zM15 345h1v1h-1zM21 348h1v1h-1zM17 353h1v1h-1zM21 353h1v1h-1zM31 345h1v1h-1zM35 345h1v1h-1zM31 353h1v1h-1zM35 353h1v1h-1zM11 365h1v1h-1zM15 365h1v1h-1zM21 368h1v1h-1zM17 373h1v1h-1zM21 373h1v1h-1zM24 365h1v1h-1zM28 365h1v1h-1zM28 368h1v1h-1zM24 373h1v1h-1zM28 373h1v1h-1zM31 365h1v1h-1zM35 365h1v1h-1zM31 373h1v1h-1zM35 373h1v1h-1zM11 385h1v1h-1zM15 385h1v1h-1zM21 388h1v1h-1zM17 393h1v1h-1zM21 393h1v1h-1zM28 388h1v1h-1zM24 393h1v1h-1zM28 393h1v1h-1zM31 385h1v1h-1zM35 385h1v1h-1zM31 393h1v1h-1zM35 393h1v1h-1zM11 405h1v1h-1zM15 405h1v1h-1zM21 408h1v1h-1zM17 413h1v1h-1zM21 413h1v1h-1zM31 405h1v1h-1zM35 405h1v1h-1zM31 413h1v1h-1zM35 413h1v1h-1z"/></svg>

</body></html>
